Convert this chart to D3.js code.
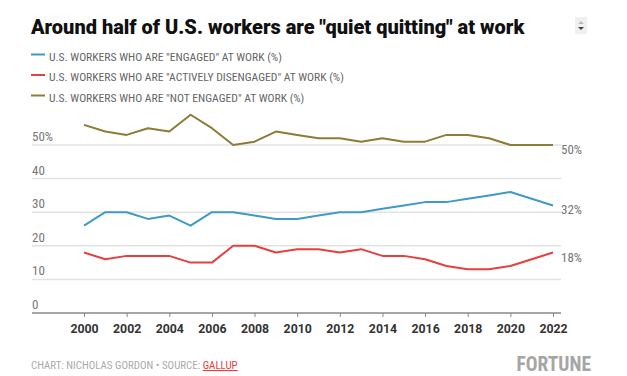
<!DOCTYPE html>
<html>
<head>
<meta charset="utf-8">
<script src="https://cdn.jsdelivr.net/npm/d3@7"></script>
<style>
  body { margin: 0; background: #fff; }
  svg { display: block; }
  .cond { font-family: "Roboto Condensed", "Roboto", sans-serif; font-stretch: condensed; }
</style>
</head>
<body>
<div id="chart"></div>
<script>
const years = d3.range(2000, 2023);
const engaged = [26, 30, 30, 28, 29, 26, 30, 30, 29, 28, 28, 29, 30, 30, 31, 32, 33, 33, 34, 35, 36, 34, 32];
const disengaged = [18, 16, 17, 17, 17, 15, 15, 20, 20, 18, 19, 19, 18, 19, 17, 17, 16, 14, 13, 13, 14, 16, 18];
const notEngaged = [56, 54, 53, 55, 54, 59, 55, 50, 51, 54, 53, 52, 52, 51, 52, 51, 51, 53, 53, 52, 50, 50, 50];
const yTicks = [0, 10, 20, 30, 40, 50];
const xTicks = d3.range(2000, 2023, 2);

const series = [
  { name: 'U.S. WORKERS WHO ARE "ENGAGED" AT WORK (%)', values: engaged, color: "#3d9bc6" },
  { name: 'U.S. WORKERS WHO ARE "ACTIVELY DISENGAGED" AT WORK (%)', values: disengaged, color: "#e5403f" },
  { name: 'U.S. WORKERS WHO ARE "NOT ENGAGED" AT WORK (%)', values: notEngaged, color: "#8d7b36" }
];

const width = 627, height = 376;
const svg = d3.select("#chart").append("svg")
  .attr("width", width)
  .attr("height", height);

// title
svg.append("text")
  .attr("x", 31).attr("y", 34)
  .attr("font-family", "Roboto, 'Noto Sans', sans-serif")
  .attr("font-weight", 900)
  .attr("font-size", 20)
  .attr("fill", "#111")
  .text('Around half of U.S. workers are "quiet quitting" at work');

// little scroll widget
const sw = svg.append("g").attr("transform", "translate(575,17)");
sw.append("rect").attr("width", 12).attr("height", 17).attr("fill", "#f0f0f0");
sw.append("path").attr("d", "M3,7 L6,4 L9,7 Z").attr("fill", "#bbb");
sw.append("path").attr("d", "M3,10 L6,13 L9,10 Z").attr("fill", "#444");

// legend
const legend = svg.append("g").attr("class", "cond");
series.forEach((s, i) => {
  const y = 54.5 + i * 20.5;
  legend.append("line")
    .attr("x1", 31).attr("x2", 45)
    .attr("y1", y).attr("y2", y)
    .attr("stroke", s.color).attr("stroke-width", 2);
  legend.append("text")
    .attr("x", 49).attr("y", y + 6)
    .attr("font-size", 11.6)
    .attr("fill", "#666")
    .text(s.name);
});

// scales
const x = d3.scaleLinear().domain([2000, 2022]).range([84, 553]);
const y = d3.scaleLinear().domain([0, 50]).range([313, 145]);
const left = 32, right = 561;

// gridlines and y labels
const grid = svg.append("g");
yTicks.filter(d => d > 0).forEach(d => {
  grid.append("line")
    .attr("x1", left).attr("x2", right)
    .attr("y1", y(d)).attr("y2", y(d))
    .attr("stroke", "#e2e2e2").attr("stroke-width", 1.5);
});
yTicks.forEach(d => {
  grid.append("text")
    .attr("class", "cond")
    .attr("x", left).attr("y", y(d) - 4)
    .attr("font-size", 13)
    .attr("fill", "#777")
    .text(d === 50 ? "50%" : d);
});

// x axis
const xAxis = d3.axisBottom(x)
  .tickValues(xTicks)
  .tickFormat(d3.format("d"))
  .tickSize(4)
  .tickPadding(7);
const gx = svg.append("g")
  .attr("transform", `translate(0,${y(0)})`)
  .call(xAxis);
gx.select(".domain").remove();
gx.insert("line", ":first-child")
  .attr("x1", left).attr("x2", right)
  .attr("stroke", "#888").attr("stroke-width", 1.5);
gx.selectAll(".tick line").attr("stroke", "#888");
gx.selectAll(".tick text")
  .attr("font-family", "Roboto, sans-serif")
  .attr("font-size", 12.3)
  .attr("font-weight", "bold")
  .attr("fill", "#333");

// lines
const line = d3.line()
  .x((d, i) => x(years[i]))
  .y(d => y(d));
series.forEach(s => {
  svg.append("path")
    .datum(s.values)
    .attr("fill", "none")
    .attr("stroke", s.color)
    .attr("stroke-width", 2)
    .attr("stroke-linejoin", "round")
    .attr("d", line);
  const last = s.values[s.values.length - 1];
  svg.append("text")
    .attr("class", "cond")
    .attr("x", right).attr("y", y(last) + 9)
    .attr("font-size", 13)
    .attr("fill", "#777")
    .text(last + "%");
});

// footer
const foot = svg.append("text")
  .attr("class", "cond")
  .attr("x", 31).attr("y", 369)
  .attr("font-size", 10.9)
  .attr("fill", "#aaa");
foot.append("tspan").text("CHART: NICHOLAS GORDON \u2022 SOURCE: ");
foot.append("tspan").attr("fill", "#e5403f").attr("text-decoration", "underline").text("GALLUP");

svg.append("text")
  .attr("class", "cond")
  .attr("x", 591).attr("y", 371)
  .attr("text-anchor", "end")
  .attr("font-size", 19.5)
  .attr("font-weight", "bold")
  .attr("fill", "#a5a5a5")
  .text("FORTUNE");
</script>
</body>
</html>
